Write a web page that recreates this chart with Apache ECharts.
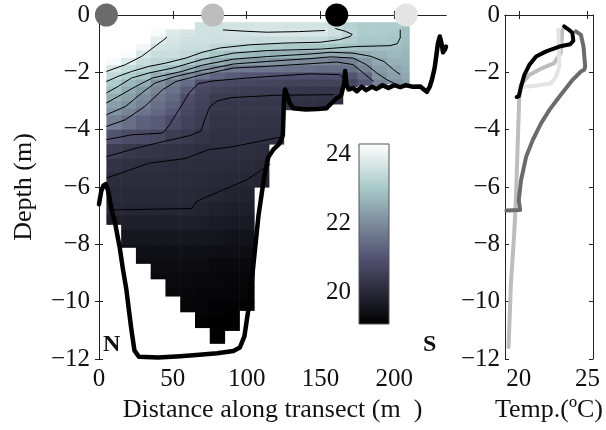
<!DOCTYPE html>
<html><head><meta charset="utf-8">
<script src="https://cdn.jsdelivr.net/npm/echarts@6/dist/echarts.min.js"></script>
<style>html,body{margin:0;padding:0;background:#fff}#c{width:606px;height:430px}</style>
</head><body><div id="c"></div>
<script>
// ---------- DATA ----------
const xTicks = [0, 50, 100, 150, 200];
const depthTicks = [-12, -10, -8, -6, -4, -2, 0];
const tempTicks = [20, 25];
const cbarTicks = [20, 22, 24];
const cbarRange = [19.07, 24.3];

// temperature section grid (cells)
const xEdges = [5,15,25,35,45,55,65,75,85,95,105,115,125,135,145,155,165,175,185,195,205,210];
const depthEdges = [-0.25,-0.5,-0.75,-1,-1.25,-1.5,-1.75,-2,-2.25,-2.5,-2.75,-3,-3.25,-3.5,-4,-4.5,-5,-5.5,-6,-6.5,-7,-7.5,-8,-8.5,-9,-9.5,-10,-10.5,-11,-11.5];
const colTop = [-0.5,-0.5,-0.5,-0.5,-0.5,-0.5,-0.25,-0.25,-0.25,-0.25,-0.25,-0.25,-0.25,-0.25,-0.25,-0.25,-0.25,-0.25,-0.25,-0.25,-0.25];
const colBottom = [-7.3,-8.1,-8.66,-9.2,-9.8,-10.35,-10.9,-11.45,-11.0,-10.3,-6.0,-4.5,-3.3,-3.3,-3.3,-3.1,-2.5,-2.45,-2.45,-2.4,-2.4];
const temp010 = [null,24.6,24.6,24.6,24.5,24.2,23.7,23.4,23.1,22.85,22.55,22.3,22.1,21.75,21.0,20.5,20.27,20.12,20.05,19.96,19.8];
const temp020 = [null,24.6,24.6,24.5,24.2,23.8,23.45,23.15,22.75,22.5,22.3,22.05,21.85,21.5,20.85,20.39,20.2,20.1,20.03,19.95,19.8,19.6,19.45];
const temp030 = [null,24.5,24.4,24.1,23.75,23.5,23.25,22.95,22.55,22.2,21.95,21.8,21.58,21.25,20.8,20.33,20.17,20.1,20.03,19.95,19.8,19.6,19.45,19.35];
const temp040 = [null,24.2,23.9,23.65,23.5,23.35,23.05,22.55,22.05,21.85,21.63,21.5,21.37,21.13,20.72,20.3,20.16,20.1,20.03,19.95,19.8,19.6,19.45,19.35,19.3];
const temp050 = [null,23.8,23.7,23.6,23.5,23.3,22.85,22.25,21.7,21.55,21.4,21.25,21.1,20.82,20.47,20.26,20.13,20.08,20.03,19.95,19.8,19.6,19.45,19.35,19.3,19.25];
const temp060 = [null,23.7,23.6,23.5,23.4,23.1,22.55,21.95,21.45,21.15,20.88,20.8,20.72,20.6,20.4,20.22,20.12,20.07,20.02,19.95,19.8,19.6,19.45,19.35,19.3,19.25,19.2];
const temp070 = [23.6,23.6,23.6,23.5,23.2,22.75,22.2,21.6,20.9,20.75,20.65,20.6,20.55,20.45,20.3,20.15,20.1,20.05,20.0,19.9,19.78,19.6,19.45,19.35,19.28,19.22,19.18,19.15];
const temp080 = [23.6,23.6,23.55,23.4,23.0,22.55,22.0,21.3,20.8,20.6,20.45,20.38,20.33,20.28,20.22,20.15,20.08,20.02,19.95,19.85,19.7,19.55,19.4,19.3,19.25,19.2,19.15,19.1,19.1];
const temp090 = [23.65,23.65,23.55,23.3,22.85,22.3,21.65,21.15,20.75,20.55,20.42,20.36,20.32,20.28,20.22,20.15,20.07,19.98,19.9,19.8,19.65,19.5,19.4,19.3,19.22,19.18,19.12,19.1];
const temp100 = [23.65,23.65,23.5,23.2,22.75,22.25,21.65,21.05,20.7,20.52,20.42,20.36,20.32,20.28,20.22,20.14,20.05,19.97,19.88,19.8,19.65,19.5,19.4,19.3,19.22,19.18,19.12];
const temp110 = [23.7,23.7,23.45,23.1,22.7,22.15,21.6,21.0,20.68,20.5,20.4,20.35,20.32,20.27,20.2,20.1,20.0,19.92];
const temp120 = [23.7,23.75,23.5,23.1,22.6,22.05,21.6,20.95,20.65,20.5,20.4,20.35,20.32,20.27,20.2];
const temp130 = [23.65,23.75,23.5,23.05,22.6,22.0,21.55,20.9,20.6,20.38,20.27,20.22,20.2];
const temp140 = [23.65,23.75,23.45,23.0,22.5,21.9,21.5,20.9,20.6,20.36,20.25,20.2,20.18];
const temp150 = [23.65,23.75,23.45,23.0,22.45,21.9,21.45,20.9,20.6,20.36,20.25,20.2,20.18];
const temp160 = [23.5,23.55,23.3,22.95,22.4,21.75,21.45,20.9,20.6,20.36,20.25,20.2];
const temp170 = [23.25,23.3,23.15,22.9,22.4,21.8,21.5,21.0,20.7];
const temp180 = [23.1,23.1,23.0,22.85,22.55,22.15,21.85,21.4,21.1];
const temp190 = [23.1,23.1,23.0,22.85,22.65,22.45,22.25,22.05,21.8];
const temp200 = [23.1,23.05,22.95,22.85,22.75,22.6,22.45,22.3,22.1];
const temp208 = [22.85,22.85,22.8,22.75,22.7,22.65,22.55,22.45,22.3];
const tempColumns = [temp010,temp020,temp030,temp040,temp050,temp060,temp070,temp080,temp090,temp100,temp110,temp120,temp130,temp140,temp150,temp160,temp170,temp180,temp190,temp200,temp208];

const contour1 = [[5,-1.97],[18,-1.73],[29,-1.44],[38,-1.09],[44,-0.86],[46,-0.77]];
const contourTop = [[84,-0.52],[100,-0.57],[114,-0.6],[135,-0.58],[153,-0.54]];
const contour2 = [[5,-2.32],[13,-2.14],[22,-1.97],[34,-1.79],[45,-1.68],[59,-1.5],[70,-1.3],[82,-1.15],[102,-1.04],[125,-0.98],[150,-0.95],[163,-0.86],[170,-0.75],[171.5,-0.68],[167,-0.57],[160,-0.47]];
const contour3 = [[5,-2.72],[13,-2.49],[22,-2.2],[34,-2.02],[50,-1.85],[70,-1.55],[91,-1.33],[114,-1.24],[150,-1.19],[174,-1.1],[197,-1.07],[202,-1.0],[204,-0.8],[204,-0.51]];
const contour4 = [[5,-3.07],[13,-2.84],[25,-2.49],[36,-2.2],[56,-1.97],[70,-1.75],[91,-1.54],[114,-1.45],[143,-1.36],[157,-1.3],[172,-1.33],[184,-1.44],[193,-1.62],[199.5,-1.91],[204,-2.08]];
const contour5 = [[5,-3.48],[18,-3.19],[29,-2.72],[38,-2.37],[52,-2.14],[70,-1.93],[91,-1.71],[114,-1.62],[143,-1.52],[157,-1.46],[172,-1.5],[181,-1.73],[188,-2.02],[195,-2.26],[199.5,-2.37]];
const contour6 = [[5,-3.89],[18,-3.65],[31,-3.19],[43,-2.61],[52,-2.32],[70,-2.08],[91,-1.85],[114,-1.79],[143,-1.7],[161,-1.64],[172,-1.73],[179,-2.02],[186,-2.32]];
const contour7 = [[5,-4.35],[22,-4.18],[43,-4.12],[47,-3.89],[54,-3.31],[61,-2.72],[67,-2.4],[77,-2.3],[100,-2.2],[143,-2.05],[163,-2.08],[168,-2.32]];
const contour8 = [[5,-4.94],[27,-4.62],[45,-4.4],[62,-4.2],[69,-4.05],[72,-3.6],[75,-3.2],[80,-3.0],[90,-2.88],[120,-2.8],[159,-2.78]];
const contour9 = [[5,-5.69],[34,-5.17],[59,-5.0],[74,-4.7],[91,-4.59],[114,-4.35],[125,-4.24]];
const contour10 = [[9,-6.8],[63,-6.75],[66,-6.5],[100,-5.75],[116,-5.2]];
const contourLines = [contour1,contourTop,contour2,contour3,contour4,contour5,contour6,contour7,contour8,contour9,contour10];

// bottom / boat track [distance, depth]
const bottomTrack = [[0,-6.6],[1.5,-6.15],[3,-5.95],[4.5,-5.9],[6,-6.1],[7.5,-6.5],[9,-6.9],[10.7,-7.2],[12.5,-7.7],[14,-8.1],[16,-8.8],[18.6,-9.6],[20.5,-10.4],[22,-11.0],[24,-11.7],[27,-11.92],[40,-11.95],[55,-11.9],[68,-11.85],[80,-11.8],[91,-11.72],[95.4,-11.6],[98.5,-11.2],[100.5,-10.5],[102,-10.0],[104,-9.0],[106,-8.0],[108,-7.0],[110,-6.3],[112,-5.6],[114.7,-4.95],[118,-4.7],[122,-4.5],[124.5,-4.2],[125,-3.4],[125.5,-2.8],[126,-2.6],[127.5,-2.8],[129,-3.05],[131.5,-3.25],[140,-3.3],[148,-3.28],[154,-3.25],[157.6,-3.07],[161,-2.9],[164,-2.8],[166,-2.4],[166.7,-1.95],[167.5,-2.4],[169,-2.6],[172,-2.55],[174.6,-2.66],[178,-2.5],[181,-2.62],[185,-2.5],[188,-2.58],[192,-2.45],[196,-2.55],[200,-2.45],[204,-2.52],[208,-2.45],[212,-2.5],[217.6,-2.49],[220,-2.6],[222,-2.68],[224,-2.5],[225.5,-2.25],[227.3,-1.85],[228.5,-1.4],[229.5,-1.0],[230.8,-0.75],[231.8,-0.95],[233,-1.3],[234.3,-1.2],[235,-1.1]];

// stations
const stationX = [5, 77, 161, 208];
const stationColors = ['#6b6b6b', '#bdbdbd', '#000000', '#e4e4e4'];

// profiles [temperature, depth]
const profile1 = [[24.16,-0.57],[24.52,-0.69],[24.71,-1.1],[24.83,-1.8],[24.76,-1.91],[24.52,-1.97],[23.92,-2.26],[22.95,-2.85],[22.23,-3.31],[21.62,-3.78],[21.02,-4.36],[20.54,-4.94],[20.17,-5.76],[20.0,-6.46],[20.1,-6.8],[19.1,-6.82]];
const profile2 = [[23.17,-0.52],[23.05,-1.33],[22.57,-1.68],[21.72,-1.85],[20.76,-2.09],[20.15,-2.44],[20.03,-2.96],[19.91,-4.71],[19.79,-6.46],[19.67,-7.62],[19.43,-9.37],[19.26,-11.58]];
const profile3 = [[23.3,-0.4],[23.6,-0.5],[23.9,-0.62],[23.97,-0.9],[23.75,-1.02],[22.95,-1.1],[22.0,-1.27],[21.26,-1.45],[20.77,-1.74],[20.41,-2.09],[20.17,-2.49],[20.0,-2.84],[19.85,-2.86]];
const profile4 = [[22.88,-0.51],[22.95,-1.8],[22.71,-2.15],[22.35,-2.38],[21.26,-2.47],[20.05,-2.52]];
const profiles = [profile2, profile4, profile1, profile3];
const profileColors = ['#bdbdbd', '#e4e4e4', '#6b6b6b', '#000000'];

// bone colormap stops
const boneColors = ['#000000','#1c1c27','#38384d','#545474','#707a8f','#8ba1ab','#a7c7c7','#d3e3e3','#ffffff'];

// ---------- CHART ----------
const FONT = "'Liberation Serif','Times New Roman',serif";
const TXT = '#111';
const fieldData = [];
tempColumns.forEach((col, c) => col.forEach((t, r) => {
  if (t != null) fieldData.push([(xEdges[c] + xEdges[c + 1]) / 2, (depthEdges[r] + depthEdges[r + 1]) / 2, t, c, r]);
}));
const minusFmt = v => (v < 0 ? '\u2212' + Math.abs(v) : String(v));
const lab = (extra) => Object.assign({fontSize: 25, fontFamily: FONT, color: TXT}, extra);
const tick = (vals, len) => ({show: true, inside: true, length: len || 4, customValues: vals, lineStyle: {color: '#222'}});
const line = {show: true, lineStyle: {color: '#222', width: 1}};

const chart = echarts.init(document.getElementById('c'), null, {renderer: 'canvas'});
const series = [];
series.push({
  type: 'custom', xAxisIndex: 0, yAxisIndex: 0, data: fieldData, encode: {x: 0, y: 1}, z: 1, silent: true,
  renderItem: function (params, api) {
    const c = api.value(3), r = api.value(4);
    const top = Math.min(depthEdges[r], colTop[c]);
    const bot = Math.max(depthEdges[r + 1], colBottom[c]);
    if (bot >= top) return;
    const p1 = api.coord([xEdges[c], top]);
    const p2 = api.coord([xEdges[c + 1], bot]);
    return {type: 'rect', shape: {x: p1[0], y: p1[1], width: p2[0] - p1[0] + 0.6, height: p2[1] - p1[1] + 0.6},
      style: {fill: api.visual('color')}};
  }
});
contourLines.forEach(cl => series.push({
  type: 'line', xAxisIndex: 0, yAxisIndex: 0, data: cl, symbol: 'none', z: 3, silent: true,
  lineStyle: {color: '#000', width: 1}
}));
series.push({
  type: 'line', xAxisIndex: 0, yAxisIndex: 0, data: bottomTrack, symbol: 'none', z: 4, silent: true, clip: false,
  lineStyle: {color: '#000', width: 4.5, cap: 'round', join: 'round'}
});
series.push({
  type: 'scatter', xAxisIndex: 0, yAxisIndex: 0, clip: false, z: 6, symbolSize: 23, silent: true,
  data: stationX.map((x, i) => ({value: [x, 0], itemStyle: {color: stationColors[i], opacity: 1}}))
});
profiles.forEach((p, i) => series.push({
  type: 'line', xAxisIndex: 2, yAxisIndex: 2, data: p, symbol: 'none', z: 3 + i, silent: true,
  lineStyle: {color: profileColors[i], width: 4, cap: 'round', join: 'round'}
}));
series.push({
  type: 'custom', xAxisIndex: 4, yAxisIndex: 4, data: [[0.5, (cbarRange[0] + cbarRange[1]) / 2]], z: 2, silent: true,
  renderItem: function (params, api) {
    const p1 = api.coord([0, cbarRange[1]]);
    const p2 = api.coord([1, cbarRange[0]]);
    const stops = boneColors.map((col, i) => ({offset: i / (boneColors.length - 1), color: col}));
    return {type: 'rect', shape: {x: p1[0], y: p1[1], width: p2[0] - p1[0], height: p2[1] - p1[1]},
      style: {fill: new echarts.graphic.LinearGradient(0, 1, 0, 0, stops), stroke: '#555', lineWidth: 1}};
  }
});

chart.setOption({
  animation: false,
  backgroundColor: '#fff',
  grid: [
    {left: 99, top: 15, width: 347, height: 344, containLabel: false, outerBoundsMode: 'none'},
    {left: 505, top: 15, width: 88, height: 344, containLabel: false, outerBoundsMode: 'none'},
    {left: 359, top: 144, width: 30, height: 180, containLabel: false, outerBoundsMode: 'none'}
  ],
  visualMap: {type: 'continuous', show: false, seriesIndex: 0, dimension: 2, min: cbarRange[0], max: cbarRange[1],
    inRange: {color: boneColors}},
  xAxis: [
    {gridIndex: 0, type: 'value', min: 0, max: 235, position: 'bottom', axisLine: line, splitLine: {show: false},
      axisTick: tick(xTicks), axisLabel: lab({customValues: xTicks, margin: 8}),
      name: 'Distance along transect (m  )', nameLocation: 'middle', nameGap: 38, nameTextStyle: lab({fontSize: 26})},
    {gridIndex: 0, type: 'value', min: 0, max: 235, position: 'top', axisLine: line, splitLine: {show: false},
      axisTick: tick(xTicks), axisLabel: {show: false}},
    {gridIndex: 1, type: 'value', min: 19, max: 25.4, position: 'bottom', axisLine: line, splitLine: {show: false},
      axisTick: tick(tempTicks), axisLabel: lab({customValues: tempTicks, margin: 8}),
      name: 'Temp.(\u00baC)', nameLocation: 'middle', nameGap: 38, nameTextStyle: lab({fontSize: 26})},
    {gridIndex: 1, type: 'value', min: 19, max: 25.4, position: 'top', axisLine: line, splitLine: {show: false},
      axisTick: tick(tempTicks), axisLabel: {show: false}},
    {gridIndex: 2, type: 'value', min: 0, max: 1, show: false}
  ],
  yAxis: [
    {gridIndex: 0, type: 'value', min: -12, max: 0, position: 'left', axisLine: line, splitLine: {show: false},
      axisTick: tick(depthTicks), axisLabel: lab({customValues: depthTicks, formatter: minusFmt, margin: 9}),
      name: 'Depth (m)', nameLocation: 'middle', nameRotate: 90, nameGap: 62, nameTextStyle: lab({fontSize: 26})},
    {gridIndex: 0, type: 'value', min: -12, max: 0, position: 'right', axisLine: line, splitLine: {show: false},
      axisTick: tick(depthTicks), axisLabel: {show: false}},
    {gridIndex: 1, type: 'value', min: -12, max: 0, position: 'left', axisLine: line, splitLine: {show: false},
      axisTick: tick(depthTicks), axisLabel: lab({customValues: depthTicks, formatter: minusFmt, margin: 5})},
    {gridIndex: 1, type: 'value', min: -12, max: 0, position: 'right', axisLine: line, splitLine: {show: false},
      axisTick: tick(depthTicks), axisLabel: {show: false}},
    {gridIndex: 2, type: 'value', min: cbarRange[0], max: cbarRange[1], position: 'left', axisLine: {show: false},
      splitLine: {show: false}, axisTick: tick(cbarTicks, 3), axisLabel: lab({customValues: cbarTicks, margin: 8})},
    {gridIndex: 2, type: 'value', min: cbarRange[0], max: cbarRange[1], position: 'right', axisLine: {show: false},
      splitLine: {show: false}, axisTick: tick(cbarTicks, 3), axisLabel: {show: false}}
  ],
  graphic: [
    {type: 'text', left: 103, top: 333, z: 20, style: {text: 'N', font: 'bold 24px ' + FONT, fill: '#111'}},
    {type: 'text', left: 423, top: 333, z: 20, style: {text: 'S', font: 'bold 24px ' + FONT, fill: '#111'}}
  ],
  series: series
});
</script></body></html>
